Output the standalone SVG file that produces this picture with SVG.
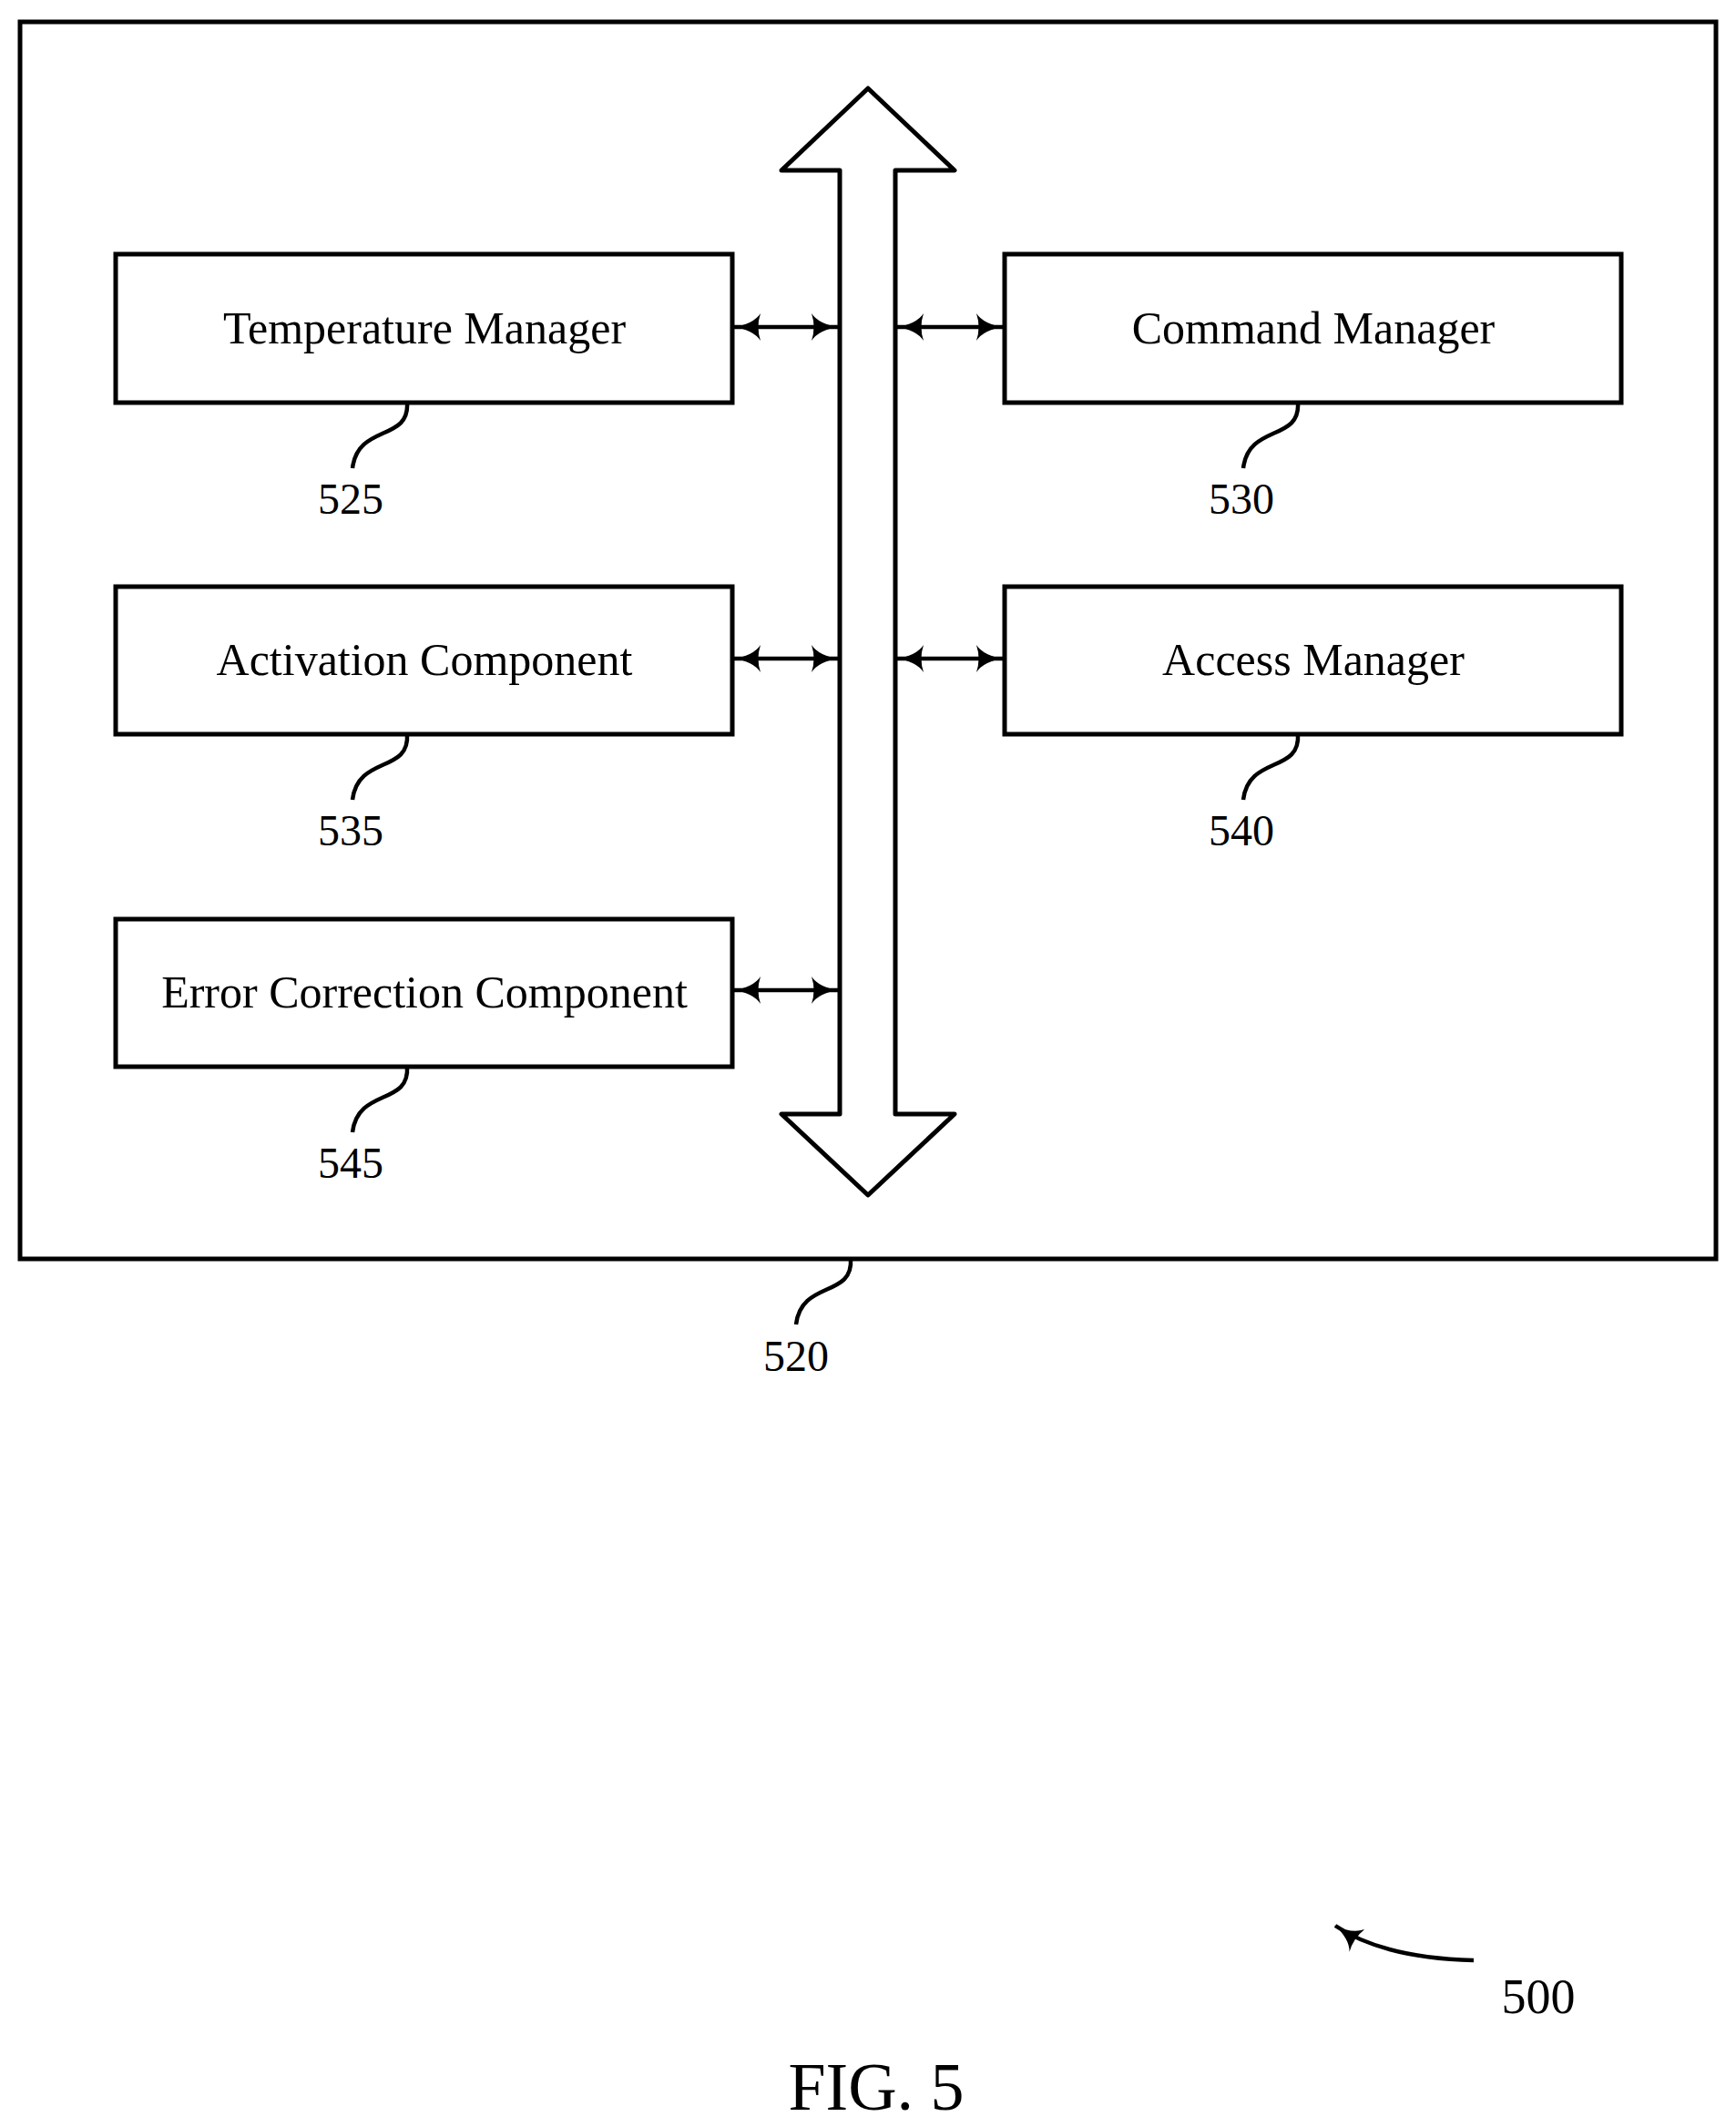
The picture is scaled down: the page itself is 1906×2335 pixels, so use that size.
<svg xmlns="http://www.w3.org/2000/svg" width="1906" height="2335" viewBox="0 0 1906 2335">
<style>
.b{fill:#fff;stroke:#000;stroke-width:5}
.l{fill:none;stroke:#000;stroke-width:4.5}
text{font-family:"Liberation Serif",serif;fill:#000}
.t{font-size:50px;text-anchor:middle}
.n{font-size:48px;text-anchor:middle}
</style>
<defs>
<marker id="a" viewBox="0 0 30 30" refX="29" refY="15" markerWidth="30" markerHeight="30" markerUnits="userSpaceOnUse" orient="auto-start-reverse">
<path d="M0,0 Q8,12 30,15 Q8,18 0,30 Q5,15 0,0Z" fill="#000"/>
</marker>
</defs>
<rect id="n520" class="b" x="22" y="24" width="1862" height="1358"/>
<path id="bus" class="b" stroke-linejoin="round" d="M953,97 L1048,187 L983,187 L983,1223 L1048,1223 L953,1312 L858,1223 L922,1223 L922,187 L858,187 Z"/>
<g id="n525"><rect class="b" x="127" y="279" width="677" height="163"/><text class="t" x="466" y="377">Temperature Manager</text></g>
<g id="n530"><rect class="b" x="1103" y="279" width="677" height="163"/><text class="t" x="1442" y="377">Command Manager</text></g>
<g id="n535"><rect class="b" x="127" y="644" width="677" height="162"/><text class="t" x="466" y="741">Activation Component</text></g>
<g id="n540"><rect class="b" x="1103" y="644" width="677" height="162"/><text class="t" x="1442" y="741">Access Manager</text></g>
<g id="n545"><rect class="b" x="127" y="1009" width="677" height="162"/><text class="t" x="466" y="1106">Error Correction Component</text></g>
<g id="connectors">
<line class="l" x1="806" y1="359" x2="920" y2="359" marker-start="url(#a)" marker-end="url(#a)"/>
<line class="l" x1="985" y1="359" x2="1101" y2="359" marker-start="url(#a)" marker-end="url(#a)"/>
<line class="l" x1="806" y1="723" x2="920" y2="723" marker-start="url(#a)" marker-end="url(#a)"/>
<line class="l" x1="985" y1="723" x2="1101" y2="723" marker-start="url(#a)" marker-end="url(#a)"/>
<line class="l" x1="806" y1="1087" x2="920" y2="1087" marker-start="url(#a)" marker-end="url(#a)"/>
<path class="l" d="M447,442 C450,485 393,465 387,514"/>
<path class="l" d="M1425,442 C1428,485 1371,465 1365,514"/>
<path class="l" d="M447,806 C450,849 393,829 387,878"/>
<path class="l" d="M1425,806 C1428,849 1371,829 1365,878"/>
<path class="l" d="M447,1171 C450,1214 393,1194 387,1243"/>
<path class="l" d="M934,1382 C937,1425 880,1405 874,1454"/>
<path class="l" d="M1618,2152 C1545,2150 1497,2135 1466,2114" marker-end="url(#a)"/>
</g>
<text class="n" x="385" y="564">525</text>
<text class="n" x="1363" y="564">530</text>
<text class="n" x="385" y="928">535</text>
<text class="n" x="1363" y="928">540</text>
<text class="n" x="385" y="1293">545</text>
<text class="n" x="874" y="1505">520</text>
<text x="1689" y="2210" style="font-size:54px;text-anchor:middle">500</text>
<text x="962" y="2316" style="font-size:74px;text-anchor:middle">FIG. 5</text>
</svg>
